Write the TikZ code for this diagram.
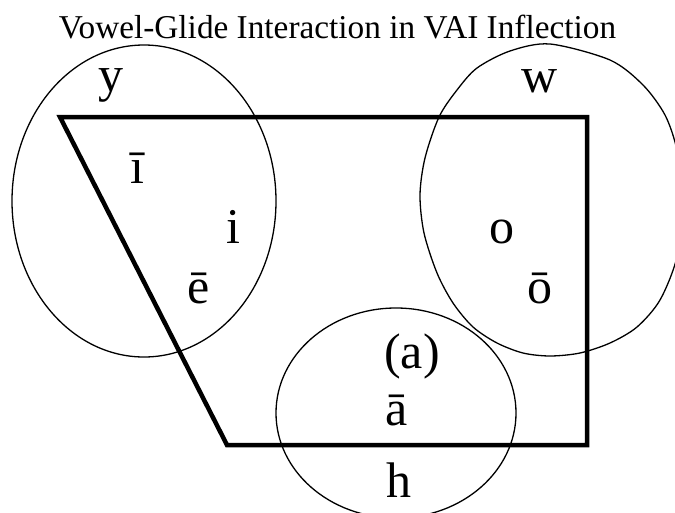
\documentclass[tikz,border=0pt]{standalone}
\usepackage{fontspec}
\setmainfont{Liberation Serif}
\begin{document}
\begin{tikzpicture}[x=1pt,y=-1pt,
  lbl/.style={anchor=base,inner sep=0pt,font=\fontsize{50}{50}\selectfont},
  ring/.style={draw,line width=1.3pt},
  frame/.style={draw,line width=4.5pt,line join=miter}]
\useasboundingbox (0,0) rectangle (675,512);
\node[anchor=base,inner sep=0pt,font=\fontsize{33.3}{33.3}\selectfont] (title) at (337.5,38) {Vowel-Glide Interaction in VAI Inflection};
% frame
\coordinate (tl) at (60,117);
\coordinate (tr) at (587,117);
\coordinate (br) at (587,445);
\coordinate (bl) at (227,445);
\draw[frame] (tl) -- (tr) -- (br) -- (bl) -- cycle;
% circles
\draw[ring] (144,201) ellipse [x radius=132pt, y radius=156pt];
\draw[ring] (396,413) ellipse [x radius=120pt, y radius=105pt];
\draw[ring] plot[smooth cycle, tension=0.5] coordinates {
  (550,44) (610,60) (643,85) (665,115) (677,150) (684,200) (677,257)
  (660,300) (637,327) (610,343) (580,353) (550,356) (523,353) (497,343)
  (473,327) (453,303) (437,273) (424,233) (420,195) (425,158) (439,117)
  (457,90) (477,68) (510,51)};
% labels
\node[lbl] (y) at (111,91) {y};
\node[lbl] (w) at (540,92) {w};
\node[lbl] (ibar) at (137,183) {ī};
\node[lbl] (i) at (233,243) {i};
\node[lbl] (ebar) at (199,303) {ē};
\node[lbl] (o) at (502,243) {o};
\node[lbl] (obar) at (540,303) {ō};
\node[lbl] (a) at (412,368) {(a)};
\node[lbl] (abar) at (397,425) {ā};
\node[lbl] (h) at (399,497) {h};
\end{tikzpicture}
\end{document}
